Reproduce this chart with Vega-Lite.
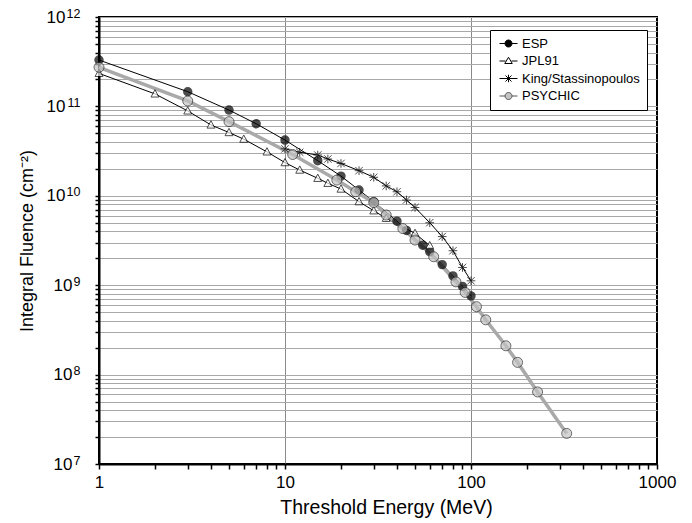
{
  "$schema": "https://vega.github.io/schema/vega-lite/v6.json",
  "autosize": {"type": "none"},
  "width": 558,
  "height": 447,
  "padding": {"left": 99, "top": 17, "right": 35, "bottom": 59},
  "background": "white",
  "config": {
    "view": {"stroke": "black", "strokeWidth": 2},
    "font": "Liberation Sans",
    "axis": {
      "domainColor": "black",
      "domainWidth": 2,
      "tickColor": "black",
      "tickWidth": 1.5,
      "labelColor": "black",
      "titleColor": "black",
      "labelFont": "Liberation Sans",
      "titleFont": "Liberation Sans",
      "titleFontWeight": "normal",
      "labelOverlap": false,
      "labelFlush": false
    }
  },
  "datasets": {
    "fluence": [
      {"model": "ESP", "E": 1, "F": 3.3e11},
      {"model": "ESP", "E": 3, "F": 1.46e11},
      {"model": "ESP", "E": 5, "F": 9.1e10},
      {"model": "ESP", "E": 7, "F": 6.4e10},
      {"model": "ESP", "E": 10, "F": 4.2e10},
      {"model": "ESP", "E": 15, "F": 2.47e10},
      {"model": "ESP", "E": 20, "F": 1.66e10},
      {"model": "ESP", "E": 25, "F": 1.16e10},
      {"model": "ESP", "E": 30, "F": 8.6e9},
      {"model": "ESP", "E": 40, "F": 5.2e9},
      {"model": "ESP", "E": 45, "F": 4.1e9},
      {"model": "ESP", "E": 55, "F": 2.8e9},
      {"model": "ESP", "E": 60, "F": 2.37e9},
      {"model": "ESP", "E": 70, "F": 1.7e9},
      {"model": "ESP", "E": 80, "F": 1.27e9},
      {"model": "ESP", "E": 90, "F": 9.7e8},
      {"model": "ESP", "E": 100, "F": 7.6e8},

      {"model": "JPL91", "E": 1, "F": 2.34e11},
      {"model": "JPL91", "E": 2, "F": 1.38e11},
      {"model": "JPL91", "E": 3, "F": 8.9e10},
      {"model": "JPL91", "E": 4, "F": 6.2e10},
      {"model": "JPL91", "E": 5, "F": 5.1e10},
      {"model": "JPL91", "E": 6, "F": 4.3e10},
      {"model": "JPL91", "E": 8, "F": 3.1e10},
      {"model": "JPL91", "E": 10, "F": 2.35e10},
      {"model": "JPL91", "E": 12, "F": 1.94e10},
      {"model": "JPL91", "E": 15, "F": 1.57e10},
      {"model": "JPL91", "E": 17, "F": 1.38e10},
      {"model": "JPL91", "E": 20, "F": 1.19e10},
      {"model": "JPL91", "E": 25, "F": 8.6e9},
      {"model": "JPL91", "E": 30, "F": 6.8e9},
      {"model": "JPL91", "E": 35, "F": 5.6e9},
      {"model": "JPL91", "E": 50, "F": 3.8e9},
      {"model": "JPL91", "E": 60, "F": 2.77e9},

      {"model": "King/Stassinopoulos", "E": 10, "F": 3.35e10},
      {"model": "King/Stassinopoulos", "E": 12, "F": 3.07e10},
      {"model": "King/Stassinopoulos", "E": 15, "F": 2.86e10},
      {"model": "King/Stassinopoulos", "E": 17, "F": 2.58e10},
      {"model": "King/Stassinopoulos", "E": 20, "F": 2.3e10},
      {"model": "King/Stassinopoulos", "E": 25, "F": 1.91e10},
      {"model": "King/Stassinopoulos", "E": 30, "F": 1.61e10},
      {"model": "King/Stassinopoulos", "E": 35, "F": 1.29e10},
      {"model": "King/Stassinopoulos", "E": 40, "F": 1.11e10},
      {"model": "King/Stassinopoulos", "E": 45, "F": 8.97e9},
      {"model": "King/Stassinopoulos", "E": 50, "F": 7.4e9},
      {"model": "King/Stassinopoulos", "E": 60, "F": 5.0e9},
      {"model": "King/Stassinopoulos", "E": 70, "F": 3.5e9},
      {"model": "King/Stassinopoulos", "E": 80, "F": 2.43e9},
      {"model": "King/Stassinopoulos", "E": 90, "F": 1.58e9},
      {"model": "King/Stassinopoulos", "E": 100, "F": 1.12e9},

      {"model": "PSYCHIC", "E": 1, "F": 2.74e11},
      {"model": "PSYCHIC", "E": 3, "F": 1.15e11},
      {"model": "PSYCHIC", "E": 5, "F": 6.75e10},
      {"model": "PSYCHIC", "E": 11, "F": 2.9e10},
      {"model": "PSYCHIC", "E": 19, "F": 1.5e10},
      {"model": "PSYCHIC", "E": 24, "F": 1.11e10},
      {"model": "PSYCHIC", "E": 30, "F": 8.4e9},
      {"model": "PSYCHIC", "E": 35, "F": 6.1e9},
      {"model": "PSYCHIC", "E": 43, "F": 4.3e9},
      {"model": "PSYCHIC", "E": 50, "F": 3.2e9},
      {"model": "PSYCHIC", "E": 63, "F": 2.08e9},
      {"model": "PSYCHIC", "E": 83, "F": 1.09e9},
      {"model": "PSYCHIC", "E": 93, "F": 8.3e8},
      {"model": "PSYCHIC", "E": 107, "F": 5.75e8},
      {"model": "PSYCHIC", "E": 120, "F": 4.1e8},
      {"model": "PSYCHIC", "E": 154, "F": 2.1e8},
      {"model": "PSYCHIC", "E": 178, "F": 1.37e8},
      {"model": "PSYCHIC", "E": 228, "F": 6.4e7},
      {"model": "PSYCHIC", "E": 327, "F": 2.2e7}
    ]
  },
  "data": {"name": "fluence"},
  "resolve": {"scale": {"y": "independent"}, "axis": {"y": "independent"}},
  "layer": [
    {
      "encoding": {
        "x": {
          "field": "E",
          "type": "quantitative",
          "scale": {"type": "log", "domain": [1, 1000], "nice": false},
          "axis": {
            "title": "Threshold Energy (MeV)",
            "titleFontSize": 19.5,
            "titlePadding": 8,
            "titleX": 287,
            "labelFontSize": 17,
            "labelPadding": 5,
            "tickSize": 5,
            "values": [1, 2, 3, 4, 5, 6, 7, 8, 9, 10, 20, 30, 40, 50, 60, 70, 80, 90, 100, 200, 300, 400, 500, 600, 700, 800, 900, 1000],
            "labelExpr": "datum.value == 1 ? '1' : datum.value == 10 ? '10' : datum.value == 100 ? '100' : datum.value == 1000 ? '1000' : ''",
            "grid": true,
            "gridWidth": 1,
            "gridColor": {
              "condition": {"test": "datum.value == 10 || datum.value == 100", "value": "#8a8a8a"},
              "value": "transparent"
            }
          }
        },
        "y": {
          "field": "F",
          "type": "quantitative",
          "scale": {"type": "log", "domain": [1e7, 1e12], "nice": false},
          "axis": {
            "orient": "left",
            "title": "Integral Fluence (cm⁻²)",
            "titleFontSize": 18,
            "titlePadding": 10,
            "labelFontSize": 17,
            "labelPadding": {
              "condition": {"test": "datum.value < 5e9", "value": 23},
              "value": 30
            },
            "tickSize": 4,
            "values": [1e7, 2e7, 3e7, 4e7, 5e7, 6e7, 7e7, 8e7, 9e7, 1e8, 2e8, 3e8, 4e8, 5e8, 6e8, 7e8, 8e8, 9e8, 1e9, 2e9, 3e9, 4e9, 5e9, 6e9, 7e9, 8e9, 9e9, 1e10, 2e10, 3e10, 4e10, 5e10, 6e10, 7e10, 8e10, 9e10, 1e11, 2e11, 3e11, 4e11, 5e11, 6e11, 7e11, 8e11, 9e11, 1e12],
            "labelExpr": "datum.value == 1e7 || datum.value == 1e8 || datum.value == 1e9 || datum.value == 1e10 || datum.value == 1e11 || datum.value == 1e12 ? '10' : ''",
            "grid": true,
            "gridColor": "#a8a8a8",
            "gridWidth": 1
          }
        }
      },
      "layer": [
        {
          "transform": [{"filter": "datum.model != 'PSYCHIC'"}],
          "mark": {"type": "line", "color": "black", "strokeWidth": 1},
          "encoding": {"detail": {"field": "model"}}
        },
        {
          "transform": [{"filter": "datum.model == 'PSYCHIC'"}],
          "mark": {"type": "line", "color": "#a9a9a9", "strokeWidth": 3.5}
        },
        {
          "transform": [{"filter": "datum.model == 'ESP'"}],
          "mark": {"type": "point", "shape": "circle", "filled": true, "fill": "black", "stroke": "black", "size": 55}
        },
        {
          "transform": [{"filter": "datum.model == 'JPL91'"}],
          "mark": {"type": "point", "shape": "M0,-1L0.95,0.75L-0.95,0.75Z", "filled": true, "fill": "white", "stroke": "black", "strokeWidth": 1, "size": 70}
        },
        {
          "transform": [{"filter": "datum.model == 'King/Stassinopoulos'"}],
          "mark": {"type": "point", "shape": "M0,-1L0,1M-0.85,-0.85L0.85,0.85M-0.85,0.85L0.85,-0.85M-1,0L1,0", "filled": false, "stroke": "black", "strokeWidth": 1, "size": 75}
        },
        {
          "transform": [{"filter": "datum.model == 'PSYCHIC'"}],
          "mark": {"type": "point", "shape": "circle", "filled": true, "fill": "#c4c4c4", "stroke": "#2a2a2a", "strokeWidth": 1, "size": 100}
        }
      ]
    },
    {
      "mark": {"type": "point", "opacity": 0, "size": 100, "strokeWidth": 1},
      "encoding": {
        "x": {"field": "E", "type": "quantitative"},
        "y": {
          "field": "F",
          "type": "quantitative",
          "scale": {"type": "log", "domain": [1e7, 1e12], "nice": false},
          "axis": {
            "orient": "left",
            "title": null,
            "domain": false,
            "ticks": false,
            "grid": false,
            "labelFontSize": 12.5,
            "labelPadding": 19,
            "labelBaseline": "alphabetic",
            "labelOffset": 0,
            "values": [1e7, 1e8, 1e9, 1e10, 1e11, 1e12],
            "labelExpr": "datum.value == 1e7 ? '7' : datum.value == 1e8 ? '8' : datum.value == 1e9 ? '9' : datum.value == 1e10 ? '10' : datum.value == 1e11 ? '11' : '12'"
          }
        },
        "shape": {
          "field": "model",
          "type": "nominal",
          "scale": {
            "domain": ["ESP", "JPL91", "King/Stassinopoulos", "PSYCHIC"],
            "range": [
              "M-1.8,0L1.8,0M0.7,0A0.7,0.7 0 1,1 -0.7,0A0.7,0.7 0 1,1 0.7,0Z",
              "M-1.8,0L-0.6,0M0.6,0L1.8,0M0,-0.75L0.75,0.5L-0.75,0.5Z",
              "M-1.8,0L1.8,0M0,-0.75L0,0.75M-0.6,-0.6L0.6,0.6M-0.6,0.6L0.6,-0.6",
              "M-1.8,0L-0.7,0M0.7,0L1.8,0M0.7,0A0.7,0.7 0 1,1 -0.7,0A0.7,0.7 0 1,1 0.7,0Z"
            ]
          },
          "legend": {
            "title": null,
            "orient": "none",
            "legendX": 391,
            "legendY": 13,
            "padding": 7,
            "strokeColor": "black",
            "fillColor": "white",
            "labelFontSize": 13,
            "labelFont": "Liberation Sans",
            "labelColor": "black",
            "symbolOpacity": 1,
            "symbolStrokeWidth": 1,
            "symbolOffset": 5,
            "labelOffset": 7,
            "rowPadding": 3.5
          }
        },
        "fill": {
          "field": "model",
          "type": "nominal",
          "scale": {
            "domain": ["ESP", "JPL91", "King/Stassinopoulos", "PSYCHIC"],
            "range": ["black", "white", "transparent", "#c4c4c4"]
          },
          "legend": {"title": null, "orient": "none", "legendX": 391, "legendY": 13}
        },
        "stroke": {
          "field": "model",
          "type": "nominal",
          "scale": {
            "domain": ["ESP", "JPL91", "King/Stassinopoulos", "PSYCHIC"],
            "range": ["black", "black", "black", "#555555"]
          },
          "legend": {"title": null, "orient": "none", "legendX": 391, "legendY": 13}
        }
      }
    }
  ]
}
